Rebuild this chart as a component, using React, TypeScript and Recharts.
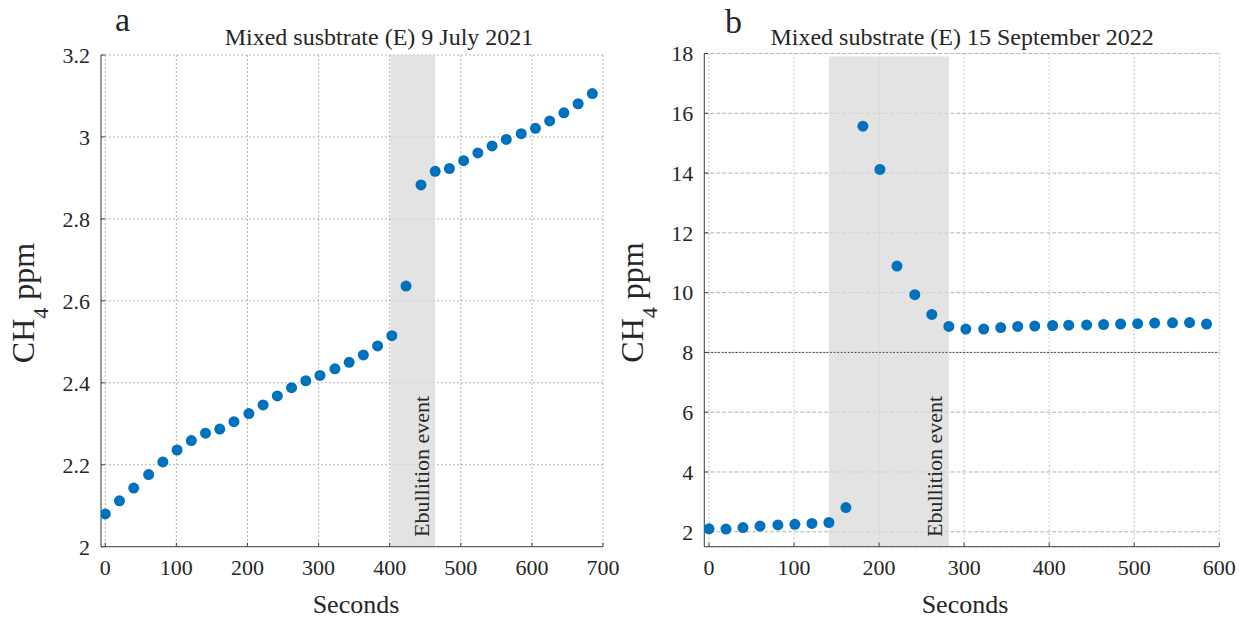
import {
  ScatterChart,
  Scatter,
  XAxis,
  YAxis,
  CartesianGrid,
  ReferenceArea,
  ReferenceLine,
} from "recharts";

// panel a: Mixed susbtrate (E) 9 July 2021
const TIME_A = [
  0, 20, 40, 61, 81, 101, 121, 141, 161, 181, 202, 222, 242, 262, 282, 302,
  323, 343, 363, 383, 403, 423, 444, 464, 484, 504, 524, 544, 564, 585, 605,
  625, 645, 665, 685,
];
const CH4_A = [
  2.08, 2.112, 2.143, 2.176, 2.207, 2.236, 2.259, 2.277, 2.287, 2.305, 2.325,
  2.346, 2.368, 2.388, 2.405, 2.418, 2.434, 2.45, 2.468, 2.49, 2.515, 2.636,
  2.883, 2.916, 2.923, 2.942, 2.961, 2.978, 2.994, 3.008, 3.021, 3.039, 3.059,
  3.081, 3.106,
];
const EVENT_A = [401, 464];
const XTICKS_A = [0, 100, 200, 300, 400, 500, 600, 700];
const YTICKS_A = [2, 2.2, 2.4, 2.6, 2.8, 3, 3.2];

// panel b: Mixed substrate (E) 15 September 2022
const TIME_B = [
  0, 20, 40, 60, 81, 101, 121, 141, 161, 181, 201, 221, 242, 262, 282, 302,
  323, 343, 363, 383, 404, 423, 444, 464, 484, 504, 524, 545, 565, 585,
];
const CH4_B = [
  2.1, 2.09, 2.14, 2.19, 2.23, 2.25, 2.28, 2.31, 2.81, 15.57, 14.12, 10.89,
  9.93, 9.27, 8.87, 8.78, 8.78, 8.83, 8.87, 8.88, 8.9, 8.91, 8.92, 8.93, 8.95,
  8.96, 8.98, 8.99, 9.0, 8.95,
];
const EVENT_B = [141, 282];
const XTICKS_B = [0, 100, 200, 300, 400, 500, 600];
const YTICKS_B = [2, 4, 6, 8, 10, 12, 14, 16, 18];

const dataA = TIME_A.map((x, i) => ({ x, y: CH4_A[i] }));
const dataB = TIME_B.map((x, i) => ({ x, y: CH4_B[i] }));

const FONT = "Liberation Serif, Times New Roman, serif";
const INK = "#262626";
const DOT = "#0072BD";
const GRID = "#b4b4b4";
const AXIS = "#444";

const tickStyle = { fill: INK, fontSize: 22, fontFamily: FONT, style: { fontFamily: FONT } };

const Dot = (p: any) => <circle cx={p.cx} cy={p.cy} r={5.5} fill={DOT} />;

const yLabel = (bx: number, cy: number) => () => (
  <text
    x={bx}
    y={cy}
    transform={`rotate(-90 ${bx} ${cy})`}
    textAnchor="middle"
    style={{ fontFamily: FONT }}
    fontSize={32}
    fill={INK}
  >
    CH
    <tspan fontSize={22} dy={14}>
      4
    </tspan>
    <tspan dy={-14}> ppm</tspan>
  </text>
);

const xLabel = (cx: number) => () => (
  <text x={cx} y={613} textAnchor="middle" style={{ fontFamily: FONT }} fontSize={26} fill={INK}>
    Seconds
  </text>
);

const eventLabel = (fx: number) => (props: any) => {
  const vb = props && props.viewBox;
  const bx = vb && vb.width ? vb.x + vb.width - 6.5 : fx;
  const by = 537;
  return (
    <text
      x={bx}
      y={by}
      transform={`rotate(-90 ${bx} ${by})`}
      style={{ fontFamily: FONT }}
      fontSize={22}
      fill={INK}
    >
      Ebullition event
    </text>
  );
};

export default function App() {
  return (
    <div
      style={{
        position: "absolute",
        left: 0,
        top: 0,
        width: 1247,
        height: 621,
        background: "#fff",
        fontFamily: FONT,
      }}
    >
      <div style={{ position: "absolute", left: 0, top: 0 }}>
        <ScatterChart
          width={625}
          height={621}
          margin={{ top: 55, right: 22, bottom: 34.3, left: 0 }}
        >
          <ReferenceArea
            x1={EVENT_A[0]}
            x2={EVENT_A[1]}
            y1={2}
            y2={3.2}
            fill="#d9d9d9"
            fillOpacity={0.75}
            stroke="none"
            label={eventLabel(428)}
          />
          <CartesianGrid strokeDasharray="2 2" stroke={GRID} />
          <XAxis
            type="number"
            dataKey="x"
            domain={[-6, 700]}
            ticks={XTICKS_A}
            interval={0}
            allowDataOverflow
            height={40}
            tickSize={-4}
            tickMargin={16.5}
            axisLine={{ stroke: AXIS }}
            tickLine={{ stroke: AXIS }}
            tick={tickStyle}
            label={xLabel(356)}
          />
          <YAxis
            type="number"
            dataKey="y"
            domain={[2, 3.2]}
            ticks={YTICKS_A}
            interval={0}
            allowDataOverflow
            width={101}
            tickSize={-4}
            tickMargin={15}
            axisLine={{ stroke: AXIS }}
            tickLine={{ stroke: AXIS }}
            tick={tickStyle}
            label={yLabel(33.5, 303)}
          />
          <Scatter data={dataA} shape={Dot} isAnimationActive={false} />
        </ScatterChart>
      </div>

      <div style={{ position: "absolute", left: 600, top: 0 }}>
        <ScatterChart
          width={647}
          height={621}
          margin={{ top: 53.5, right: 27.7, bottom: 34.3, left: 0 }}
        >
          <ReferenceArea
            x1={EVENT_B[0]}
            x2={EVENT_B[1]}
            y1={1.5}
            y2={17.9}
            fill="#d9d9d9"
            fillOpacity={0.75}
            stroke="none"
            label={eventLabel(343)}
          />
          <CartesianGrid horizontal={false} strokeDasharray="1.5 2.5" stroke={GRID} />
          <CartesianGrid vertical={false} strokeDasharray="4 2" stroke={GRID} />
          <ReferenceLine y={8} stroke="#333" strokeDasharray="1.5 2" />
          <XAxis
            type="number"
            dataKey="x"
            domain={[-5.5, 600]}
            ticks={XTICKS_B}
            interval={0}
            allowDataOverflow
            height={40}
            tickSize={-4}
            tickMargin={16.5}
            axisLine={{ stroke: AXIS }}
            tickLine={{ stroke: AXIS }}
            tick={tickStyle}
            label={xLabel(365)}
          />
          <YAxis
            type="number"
            dataKey="y"
            domain={[1.5, 18]}
            ticks={YTICKS_B}
            interval={0}
            allowDataOverflow
            width={104.3}
            tickSize={-4}
            tickMargin={15}
            axisLine={{ stroke: AXIS }}
            tickLine={{ stroke: AXIS }}
            tick={tickStyle}
            label={yLabel(43, 302.5)}
          />
          <Scatter data={dataB} shape={Dot} isAnimationActive={false} />
        </ScatterChart>
      </div>

      <svg
        width={1247}
        height={621}
        style={{ position: "absolute", left: 0, top: 0, pointerEvents: "none", fontFamily: FONT }}
        fill={INK}
      >
        <text x={115} y={31} fontSize={34}>
          a
        </text>
        <text x={379} y={45} fontSize={24} textAnchor="middle">
          Mixed susbtrate (E) 9 July 2021
        </text>
        <text x={725} y={33} fontSize={34}>
          b
        </text>
        <text x={962} y={45} fontSize={24} textAnchor="middle">
          Mixed substrate (E) 15 September 2022
        </text>
      </svg>
    </div>
  );
}
